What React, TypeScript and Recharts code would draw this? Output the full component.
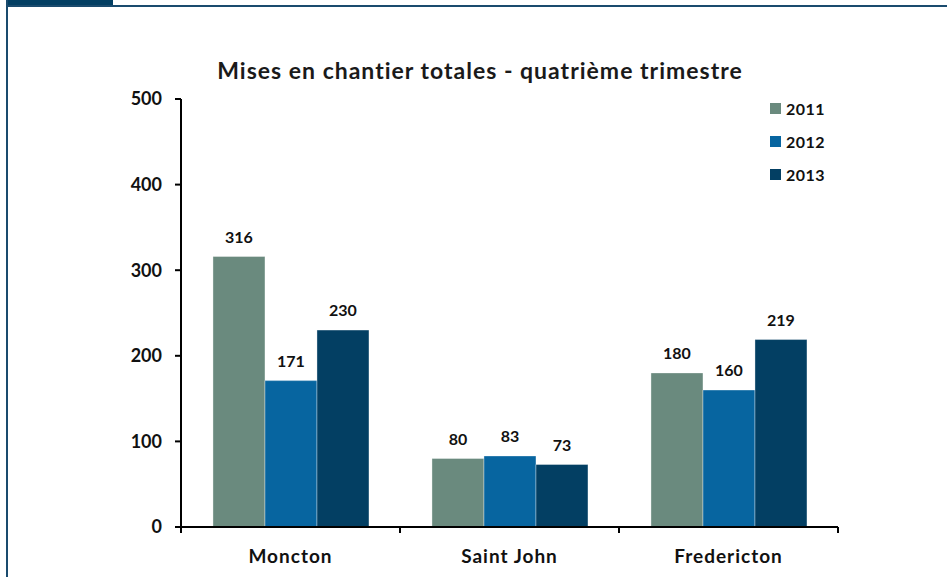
import { Bar, BarChart, LabelList, XAxis, YAxis } from 'recharts'

const cities = ['Moncton', 'Saint John', 'Fredericton']
const starts2011 = [316, 80, 180]
const starts2012 = [171, 83, 160]
const starts2013 = [230, 73, 219]
const yTicks = [0, 100, 200, 300, 400, 500]

const series = [
	{ key: '2011', color: '#6a8a7e' },
	{ key: '2012', color: '#0765a0' },
	{ key: '2013', color: '#033f63' },
]

const data = cities.map((city, i) => ({
	city,
	'2011': starts2011[i],
	'2012': starts2012[i],
	'2013': starts2013[i],
}))

const FONT = 'Lato, "DejaVu Sans", sans-serif'
const BAND = 219

const CityTick = (props: any) => {
	const { x, y, payload, index } = props
	return (
		<g>
			<line x1={x - BAND / 2} x2={x - BAND / 2} y1={y} y2={y + 6} stroke='#000' strokeWidth={2} />
			{index === cities.length - 1 && (
				<line x1={x + BAND / 2} x2={x + BAND / 2} y1={y} y2={y + 6} stroke='#000' strokeWidth={2} />
			)}
			<text
				x={x}
				y={y + 36}
				textAnchor='middle'
				fontFamily={FONT}
				fontWeight='bold'
				fontSize={19}
				letterSpacing={1}
				fill='#111'
			>
				{payload.value}
			</text>
		</g>
	)
}

export default function App() {
	return (
		<div style={{ position: 'absolute', left: 0, top: 0, width: 947, height: 577, background: '#fff' }}>
			{/* frame */}
			<div style={{ position: 'absolute', left: 6, top: 0, width: 107, height: 7, background: '#033f63' }} />
			<div style={{ position: 'absolute', left: 6, top: 5, width: 941, height: 2, background: '#1a4b6e' }} />
			<div style={{ position: 'absolute', left: 6, top: 0, width: 2, height: 577, background: '#1a4b6e' }} />
			<div
				style={{
					position: 'absolute',
					left: 0,
					width: 960,
					top: 56,
					textAlign: 'center',
					fontFamily: FONT,
					fontWeight: 'bold',
					fontSize: 23,
					letterSpacing: 1,
					color: '#1a1a1a',
				}}
			>
				Mises en chantier totales - quatrième trimestre
			</div>
			{/* legend */}
			<div
				style={{
					position: 'absolute',
					left: 770,
					top: 92,
					fontFamily: FONT,
					fontWeight: 'bold',
					fontSize: 16,
					color: '#111',
				}}
			>
				{series.map(s => (
					<div key={s.key} style={{ display: 'flex', alignItems: 'center', height: 33 }}>
						<span style={{ width: 11, height: 11, background: s.color, marginRight: 5 }} />
						<span style={{ letterSpacing: 0.5 }}>{s.key}</span>
					</div>
				))}
			</div>
			<BarChart
				width={947}
				height={577}
				data={data}
				margin={{ top: 99, right: 109, left: 0, bottom: 0 }}
				barCategoryGap='14.6%'
				barGap={0}
				style={{ position: 'absolute', left: 0, top: 0 }}
			>
				<XAxis
					dataKey='city'
					height={50}
					tickSize={0}
					tickMargin={0}
					tickLine={false}
					axisLine={{ stroke: '#000', strokeWidth: 2 }}
					tick={<CityTick />}
					interval={0}
				/>
				<YAxis
					width={181}
					domain={[0, 500]}
					ticks={yTicks}
					interval={0}
					tickSize={6}
					tickMargin={13}
					axisLine={{ stroke: '#000', strokeWidth: 2 }}
					tickLine={{ stroke: '#000', strokeWidth: 2 }}
					tick={{ fontFamily: FONT, fontWeight: 'bold', fontSize: 18, fill: '#111' }}
				/>
				{series.map(s => (
					<Bar
						key={s.key}
						dataKey={s.key}
						fill={s.color}
						stroke='#ffffff'
						strokeOpacity={0.35}
						strokeWidth={1}
						isAnimationActive={false}
					>
						<LabelList
							dataKey={s.key}
							position='top'
							offset={14}
							fontFamily={FONT}
							fontWeight='bold'
							fontSize={16}
							fill='#111'
						/>
					</Bar>
				))}
			</BarChart>
		</div>
	)
}
